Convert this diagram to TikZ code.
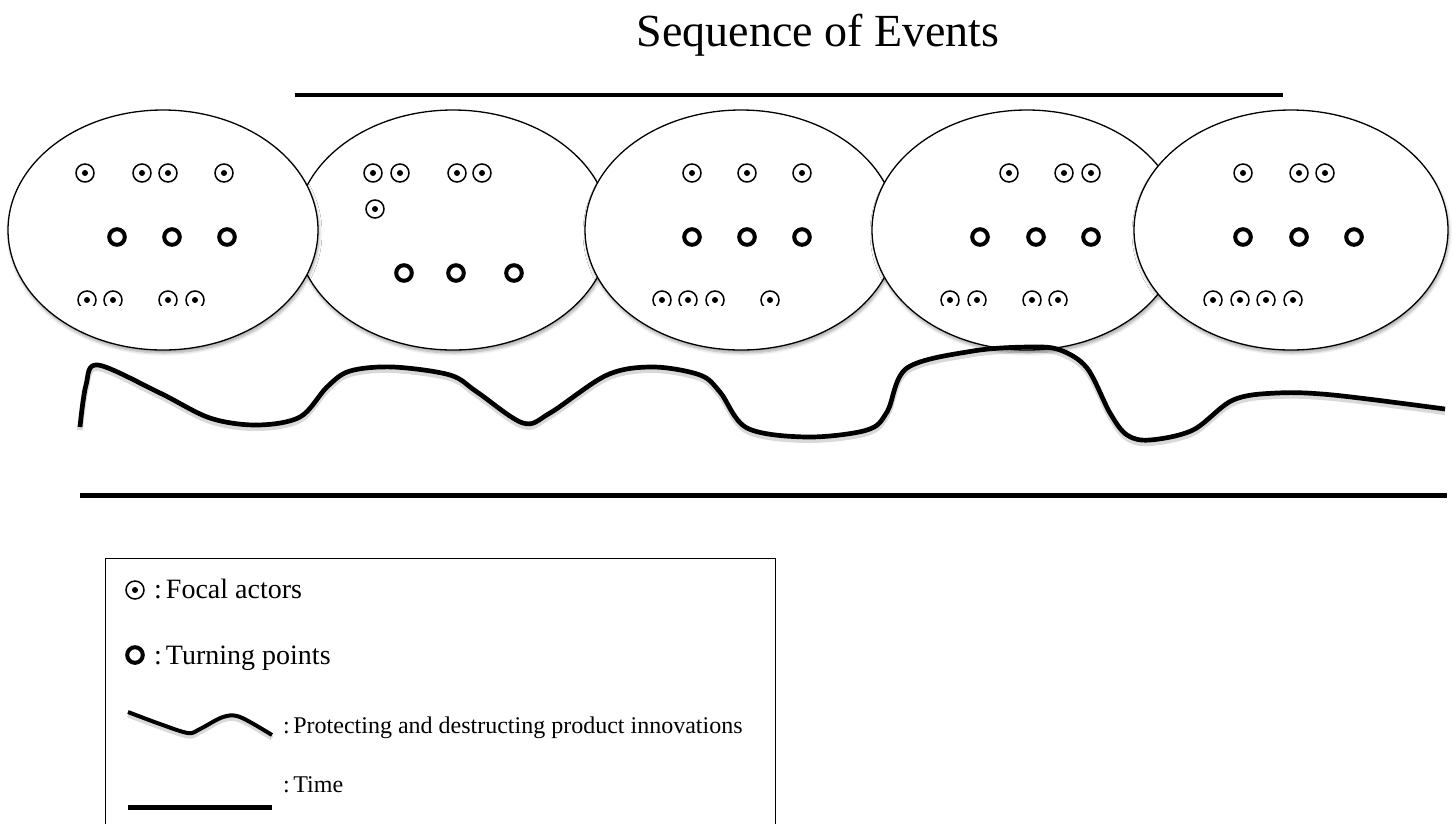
\documentclass[tikz,border=0pt]{standalone}
\usepackage{fontspec}
\setmainfont{Liberation Serif}
\usetikzlibrary{shadows.blur}

\tikzset{
  bubble/.style={draw=black, line width=1.3pt, fill=white,
    blur shadow={shadow xshift=1pt, shadow yshift=-3pt, shadow blur steps=6,
      shadow blur radius=3pt, shadow opacity=35}},
  thickline/.style={line width=4.5pt, line cap=butt},
  wavy/.style={line width=4.7pt, line join=round,
    preaction={draw=black, opacity=0.15, line width=6pt,
      transform canvas={yshift=-3pt}}},
  focal/.pic={\draw[line width=1.5pt] (0,0) circle (9pt);
              \fill (0,0) circle (3pt);},
  turning/.pic={\draw[line width=4pt] (0,0) circle (7.8pt);},
  label/.style={inner sep=0pt, anchor=base west}
}

\begin{document}
\begin{tikzpicture}[x=1pt, y=-1pt]
\useasboundingbox (0,0) rectangle (1453,823);

% title and time rule above the phases
\node[inner sep=0pt, anchor=base, font=\fontsize{46}{50}\selectfont] (title) at (818,46) {Sequence of Events};
\coordinate (topL) at (295,95);
\coordinate (topR) at (1283,95);
\draw[thickline] (topL) -- (topR);

% the five phases, overlapping from left to right
\draw[bubble] (453,230) ellipse [x radius=157, y radius=120];
\draw[bubble] (163,230) ellipse [x radius=155, y radius=120];
\draw[bubble] (741,230) ellipse [x radius=156, y radius=120];
\draw[bubble] (1027,230) ellipse [x radius=155, y radius=120];
\draw[bubble] (1291,230) ellipse [x radius=157, y radius=120];

% focal actors, upper rows
\foreach \px/\py in {85/173,142/173,168/173,224/173,
                     373/173,400/173,457/173,482/173,375/209,
                     692/173,747/173,802/173,
                     1009/173,1064/173,1091/173,
                     1243/173,1299/173,1325/173}
  \pic at (\px,\py) {focal};

% turning points
\foreach \px/\py in {117/237,172/237,227/237,
                     404/273,456/273,514/273,
                     692/237,747/237,802/237,
                     980/237,1036/237,1091/237,
                     1243/237,1299/237,1354/237}
  \pic at (\px,\py) {turning};

% focal actors, lower rows (cut off at the bottom)
\begin{scope}
  \clip (0,280) rectangle (1453,305);
  \foreach \px in {87,113,168,195,
                   662,688,715,770,
                   950,977,1032,1058,
                   1213,1240,1266,1293}
    \pic at (\px,300) {focal};
\end{scope}

% protecting and destructing product innovations
\draw[wavy] plot[smooth, tension=0.55] coordinates {
  (80,427) (86,385) (98,365) (160,393) (210,418) (257,425) (300,417)
  (327,387) (350,371) (393,367) (450,375) (477,392) (523,423) (550,413)
  (607,375) (653,367) (700,375) (720,392) (747,428) (807,437) (867,430)
  (887,412) (907,368) (973,351) (1030,347) (1060,350) (1087,368)
  (1110,413) (1127,435) (1150,440) (1193,430) (1233,400) (1277,393)
  (1333,395) (1445,409)};

% time rule below the phases
\coordinate (botL) at (80,495);
\coordinate (botR) at (1447,495);
\draw[thickline, line width=5pt] (botL) -- (botR);

% legend
\node[draw, line width=1.3pt, minimum width=670pt, minimum height=266pt,
      anchor=north west, inner sep=0pt] (legend) at (105,558) {};

\pic at (135,590) {focal};
\node[label, font=\fontsize{28}{32}\selectfont] (lfocal) at (154,598) {:\kern4pt Focal actors};

\pic at (135,655) {turning};
\node[label, font=\fontsize{28}{32}\selectfont] (lturn) at (154,664) {:\kern4pt Turning points};

\draw[line width=4pt, line join=round,
      preaction={draw=black, opacity=0.15, line width=5pt, transform canvas={yshift=-3pt}}]
  plot[smooth, tension=0.55] coordinates {(128,712) (160,724) (188,733) (200,729)
    (223,717) (240,717) (272,735)};
\node[label, font=\fontsize{24}{28}\selectfont] (lwave) at (283,733)
  {:\kern3.5pt Protecting and destructing product innovations};

\coordinate (ltimeL) at (128,807);
\coordinate (ltimeR) at (272,807);
\draw[thickline, line width=5pt] (ltimeL) -- (ltimeR);
\node[label, font=\fontsize{24}{28}\selectfont] (ltime) at (283,792) {:\kern3.5pt Time};

\end{tikzpicture}
\end{document}
